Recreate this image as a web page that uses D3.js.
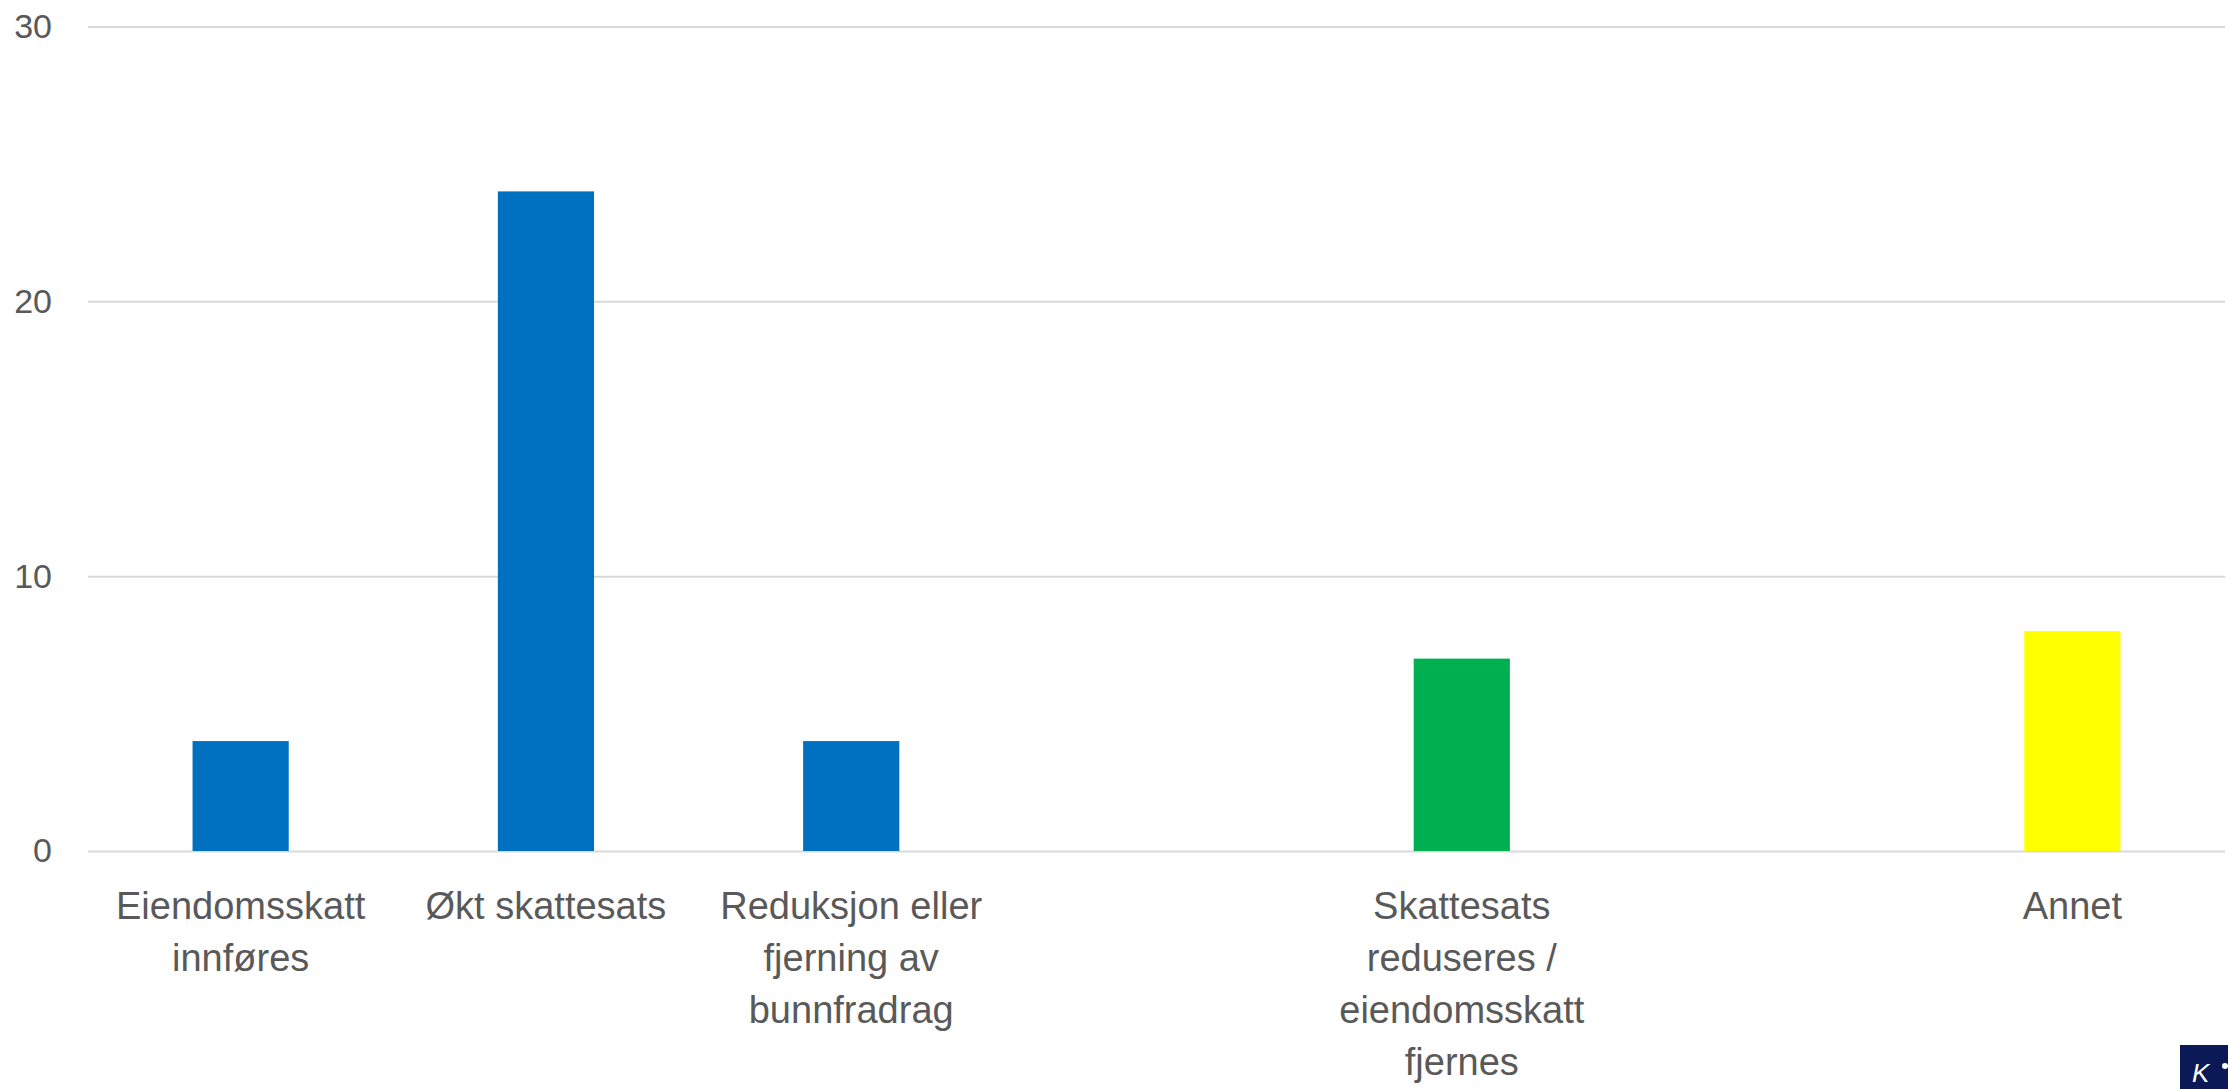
<!DOCTYPE html>
<html>
<head>
<meta charset="utf-8">
<script src="https://cdn.jsdelivr.net/npm/d3@7"></script>
<style>
  html, body { margin: 0; padding: 0; background: #ffffff; }
  svg { display: block; }
</style>
</head>
<body>
<svg id="chart" width="2228" height="1089"></svg>
<script>
// ---- data ----
const categories = [
  "Eiendomsskatt innføres",
  "Økt skattesats",
  "Reduksjon eller fjerning av bunnfradrag",
  "",
  "Skattesats reduseres / eiendomsskatt fjernes",
  "",
  "Annet"
];
const labelLines = [
  ["Eiendomsskatt", "innføres"],
  ["Økt skattesats"],
  ["Reduksjon eller", "fjerning av", "bunnfradrag"],
  [],
  ["Skattesats", "reduseres /", "eiendomsskatt", "fjernes"],
  [],
  ["Annet"]
];
const values = [4, 24, 4, null, 7, null, 8];
const barColors = ["#0070C0", "#0070C0", "#0070C0", null, "#00B050", null, "#FFFF00"];
const yTicks = [0, 10, 20, 30];

// ---- layout ----
const svg = d3.select("#chart");
const plotLeft = 88, plotRight = 2225, plotTop = 26.5, plotBottom = 851;

const x = d3.scaleBand()
  .domain(d3.range(categories.length))
  .range([plotLeft, plotRight])
  .paddingInner(0.685)
  .paddingOuter(0.3425);

const y = d3.scaleLinear().domain([0, 30]).range([plotBottom, plotTop]);

// gridlines + y tick labels
const yAxis = d3.axisLeft(y)
  .tickValues(yTicks)
  .tickSize(-(plotRight - plotLeft))
  .tickPadding(36)
  .tickFormat(d3.format("d"));

const gy = svg.append("g")
  .attr("transform", `translate(${plotLeft},0)`)
  .call(yAxis);
gy.select(".domain").remove();
gy.selectAll(".tick line")
  .attr("stroke", "#d9d9d9")
  .attr("stroke-width", 2);
gy.selectAll(".tick text")
  .attr("fill", "#595959")
  .attr("font-family", "'Liberation Sans', Arial, sans-serif")
  .attr("font-size", 34);

// bars
const data = values.map((v, i) => ({ i, v, c: barColors[i] })).filter(d => d.v != null);
svg.append("g").selectAll("rect")
  .data(data)
  .join("rect")
  .attr("x", d => x(d.i))
  .attr("width", x.bandwidth())
  .attr("y", d => y(d.v))
  .attr("height", d => y(0) - y(d.v))
  .attr("fill", d => d.c);

// x category labels
const gx = svg.append("g");
labelLines.forEach((lines, i) => {
  if (!lines.length) return;
  const t = gx.append("text")
    .attr("x", x(i) + x.bandwidth() / 2)
    .attr("y", 919)
    .attr("text-anchor", "middle")
    .attr("fill", "#595959")
    .attr("font-family", "'Liberation Sans', Arial, sans-serif")
    .attr("font-size", 38);
  lines.forEach((ln, k) => {
    t.append("tspan")
      .attr("x", x(i) + x.bandwidth() / 2)
      .attr("dy", k === 0 ? 0 : 52)
      .text(ln);
  });
});

// logo corner (clipped in the reference)
const logo = svg.append("g");
logo.append("rect")
  .attr("x", 2180).attr("y", 1045)
  .attr("width", 48).attr("height", 44)
  .attr("fill", "#0b1a57");
logo.append("text")
  .attr("x", 2192).attr("y", 1082)
  .attr("fill", "#ffffff")
  .attr("font-family", "'Liberation Sans', Arial, sans-serif")
  .attr("font-style", "italic")
  .attr("font-size", 26)
  .text("K");
logo.append("circle")
  .attr("cx", 2225).attr("cy", 1066).attr("r", 3)
  .attr("fill", "#ffffff");
</script>
</body>
</html>
